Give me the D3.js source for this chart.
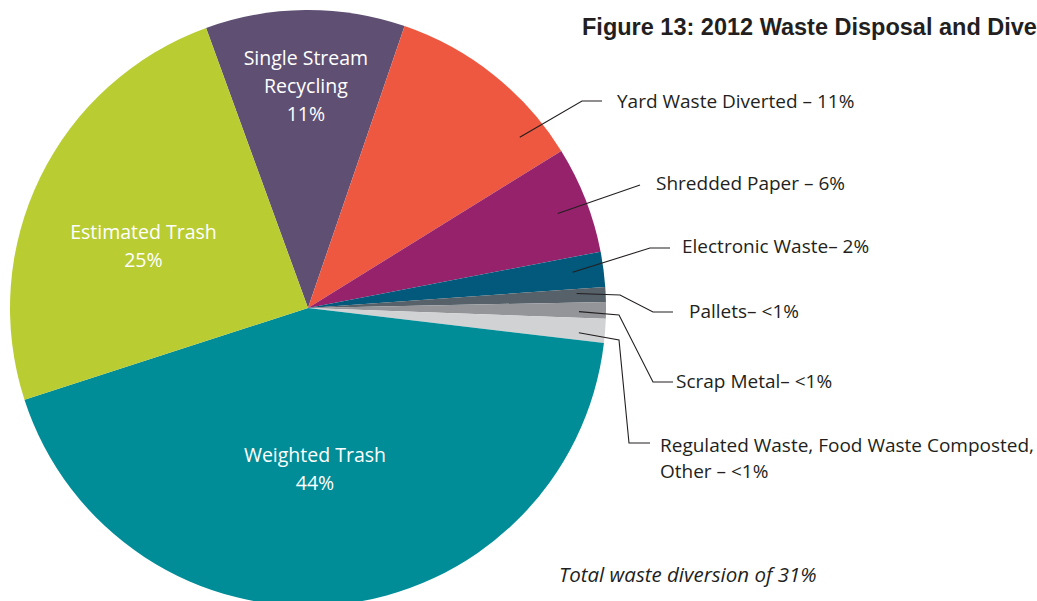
<!DOCTYPE html>
<html>
<head>
<meta charset="utf-8">
<script src="https://cdn.jsdelivr.net/npm/d3@7"></script>
<style>
  body { margin: 0; background: #fff; }
  svg { display: block; }
  .in-label { fill: #fff; font-family: "Open Sans", sans-serif; font-stretch: 94%; font-weight: 500; font-size: 19.5px; }
  .out-label { fill: #231f20; font-family: "Open Sans", sans-serif; font-stretch: 94%; font-weight: 500; font-size: 19px; }
  .leader { fill: none; stroke: #231f20; stroke-width: 1.1; }
  .title { fill: #231f20; font-family: "Liberation Sans", Arial, sans-serif; font-weight: bold; font-size: 23.5px; }
  .note { fill: #231f20; font-family: "Open Sans", sans-serif; font-weight: 500; font-style: italic; font-size: 20.5px; }
</style>
</head>
<body>
<svg id="chart"></svg>
<script>
const width = 1037;
const height = 601;

// Data (share of total waste, %)
const categories = ["Single Stream Recycling", "Yard Waste Diverted", "Shredded Paper", "Electronic Waste",
    "Pallets", "Scrap Metal", "Regulated Waste, Food Waste Composted, Other", "Weighted Trash", "Estimated Trash"];
const shares = [10.8, 10.9, 5.8, 1.9, 0.8, 0.9, 1.3, 43.1, 24.4];
const labelLines = [
    ["Single Stream", "Recycling", "11%"],
    ["Yard Waste Diverted \u2013 11%"],
    ["Shredded Paper \u2013 6%"],
    ["Electronic Waste\u2013 2%"],
    ["Pallets\u2013 <1%"],
    ["Scrap Metal\u2013 <1%"],
    ["Regulated Waste, Food Waste Composted,", "Other \u2013 <1%"],
    ["Weighted Trash", "44%"],
    ["Estimated Trash", "25%"]
];
const colors = ["#5f5073", "#ef5840", "#96226c", "#03597b", "#56616a", "#939598", "#d1d2d4", "#008d98", "#b9cd33"];

const cx = 308, cy = 308, radius = 298;

const svg = d3.select("#chart")
    .attr("width", width)
    .attr("height", height);

const g = svg.append("g")
    .attr("transform", `translate(${cx}, ${cy})`);

const startA = -20 * Math.PI / 180;
const pie = d3.pie()
    .sort(null)
    .value(d => d.value)
    .startAngle(startA)
    .endAngle(startA + 2 * Math.PI);

const arc = d3.arc().innerRadius(0).outerRadius(radius);

const data = categories.map((c, i) => ({ name: c, value: shares[i], lines: labelLines[i], color: colors[i] }));
const arcs = pie(data);

g.selectAll(".slice")
    .data(arcs)
    .enter()
    .append("path")
    .attr("class", "slice")
    .attr("d", arc)
    .attr("fill", d => d.data.color);

// point at radius r, fraction t across the slice
function polar(d, r, t) {
    const a = d.startAngle + t * (d.endAngle - d.startAngle);
    return [r * Math.sin(a), -r * Math.cos(a)];
}

// Inside labels
const inside = { 0: { r: 222, t: 0.5 }, 7: { r: 161, t: 0.52 }, 8: { r: 176, t: 0.44 } };
const lineH = 28;

arcs.forEach((d, i) => {
    if (!inside[i]) return;
    const [x, y] = polar(d, inside[i].r, inside[i].t);
    const n = d.data.lines.length;
    const y0 = y - (n - 1) * lineH / 2 + 7;
    const txt = g.append("text")
        .attr("class", "in-label")
        .attr("text-anchor", "middle");
    d.data.lines.forEach((l, k) => {
        txt.append("tspan").attr("x", x).attr("y", y0 + k * lineH).text(l);
    });
});

// Outside labels with leader lines (page coordinates for elbows and text)
const outside = {
    1: { r: 272, t: 0.82, pts: [[582, 101], [602, 101]], tx: 617, ty: 108 },
    2: { r: 267, t: 0.53, pts: [[640, 185]], tx: 656, ty: 190 },
    3: { r: 267, t: 0.47, pts: [[650, 248], [670, 248]], tx: 682, ty: 253 },
    4: { r: 269, t: 0.33, pts: [[620, 295], [653, 312], [673, 312]], tx: 689, ty: 318 },
    5: { r: 271, t: 0.6, pts: [[619, 315], [653, 382], [673, 382]], tx: 676, ty: 388 },
    6: { r: 272, t: 0.67, pts: [[619, 340], [629, 443], [650, 443]], tx: 660, ty: 452 }
};

const line = d3.line();

arcs.forEach((d, i) => {
    const o = outside[i];
    if (!o) return;
    const [sx, sy] = polar(d, o.r, o.t);
    const pts = [[sx + cx, sy + cy]].concat(o.pts);
    svg.append("path")
        .attr("class", "leader")
        .attr("d", line(pts));
    const txt = svg.append("text")
        .attr("class", "out-label");
    d.data.lines.forEach((l, k) => {
        txt.append("tspan").attr("x", o.tx).attr("y", o.ty + k * 26).text(l);
    });
});

svg.append("text")
    .attr("class", "title")
    .attr("x", 582)
    .attr("y", 35)
    .text("Figure 13: 2012 Waste Disposal and Diversion");

svg.append("text")
    .attr("class", "note")
    .attr("x", 559)
    .attr("y", 582)
    .text("Total waste diversion of 31%");
</script>
</body>
</html>
